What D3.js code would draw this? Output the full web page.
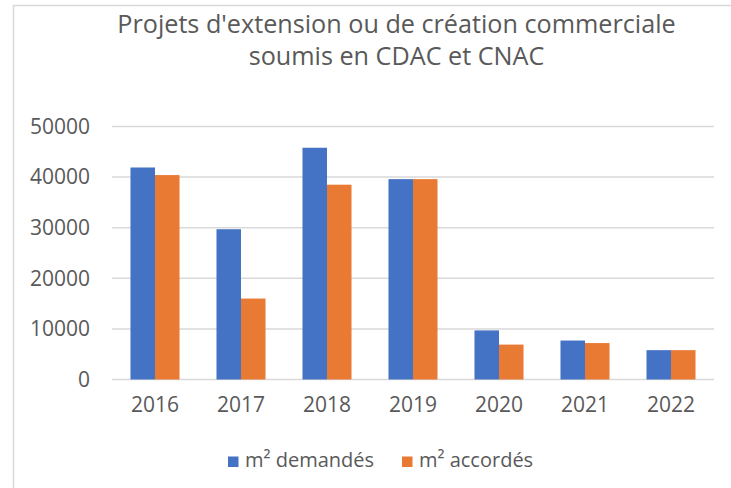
<!DOCTYPE html>
<html><head><meta charset="utf-8">
<script src="https://cdn.jsdelivr.net/npm/d3@7"></script>
<style>body{margin:0;background:#fff;}svg{display:block;font-family:"Open Sans",sans-serif;}</style>
</head><body>
<svg id="c" width="731" height="488"></svg>
<script>
const years = ["2016","2017","2018","2019","2020","2021","2022"];
const seriesNames = ["m² demandés","m² accordés"];
const demandes = [41900, 29700, 45800, 39600, 9700, 7700, 5800];
const accordes = [40400, 16000, 38500, 39600, 6900, 7200, 5800];
const yTicks = [0, 10000, 20000, 30000, 40000, 50000];
const colors = ["#4472C4", "#E97A33"];
const titleLines = ["Projets d'extension ou de création commerciale", "soumis en CDAC et CNAC"];

(function(){
const svg = d3.select("#c");
const txt = "#595959";
// chart border
svg.append("rect").attr("x",13.5).attr("y",5.5).attr("width",740).attr("height",500)
  .attr("fill","none").attr("stroke","#d9d9d9").attr("stroke-width",1.5);

const pLeft=112, pRight=714, pTop=126.5, pBottom=379.5;
const x = d3.scaleBand().domain(years).range([pLeft,pRight]).paddingInner(0.43).paddingOuter(0.215);
const xs = d3.scaleBand().domain([0,1]).range([0,x.bandwidth()]);
const y = d3.scaleLinear().domain([0,50000]).range([pBottom,pTop]);

// gridlines
svg.append("g").selectAll("line").data(yTicks).join("line")
  .attr("x1",pLeft).attr("x2",pRight).attr("y1",d=>y(d)).attr("y2",d=>y(d))
  .attr("stroke","#d9d9d9").attr("stroke-width",1.5);

// y axis labels
const yAxis = d3.axisLeft(y).tickValues(yTicks).tickSize(0).tickPadding(0).tickFormat(d3.format("d"));
const gy = svg.append("g").attr("transform",`translate(90,0)`).call(yAxis);
gy.select(".domain").remove();
gy.selectAll("text").attr("fill",txt).style("font-size","21px").style("font-family","'Open Sans',sans-serif");

// x axis labels
const xAxis = d3.axisBottom(x).tickSize(0).tickPadding(0);
const gx = svg.append("g").attr("transform",`translate(0,397)`).call(xAxis);
gx.select(".domain").remove();
gx.selectAll("text").attr("fill",txt).style("font-size","21px").style("font-family","'Open Sans',sans-serif");

// bars
const data = years.map((yr,i)=>({yr, vals:[demandes[i], accordes[i]]}));
const groups = svg.append("g").selectAll("g").data(data).join("g")
  .attr("transform",d=>`translate(${x(d.yr)},0)`);
groups.selectAll("rect").data(d=>d.vals.map((v,k)=>({v,k}))).join("rect")
  .attr("x",d=>xs(d.k)).attr("width",xs.bandwidth())
  .attr("y",d=>y(d.v)).attr("height",d=>y(0)-y(d.v))
  .attr("fill",d=>colors[d.k]);

// title
svg.append("g").selectAll("text").data(titleLines).join("text")
  .attr("x",396.5).attr("y",(d,i)=>33+i*32).attr("text-anchor","middle")
  .attr("fill",txt).style("font-size","25.2px").text(d=>d);

// legend
const legX = [228, 402];
const lg = svg.append("g").selectAll("g").data(seriesNames).join("g")
  .attr("transform",(d,i)=>`translate(${legX[i]},0)`);
lg.append("rect").attr("x",0).attr("y",456.5).attr("width",10.5).attr("height",10.5).attr("fill",(d,i)=>colors[i]);
lg.append("text").attr("x",17).attr("y",467).attr("fill",txt).style("font-size","20px").text(d=>d);
})();
</script>
</body></html>
